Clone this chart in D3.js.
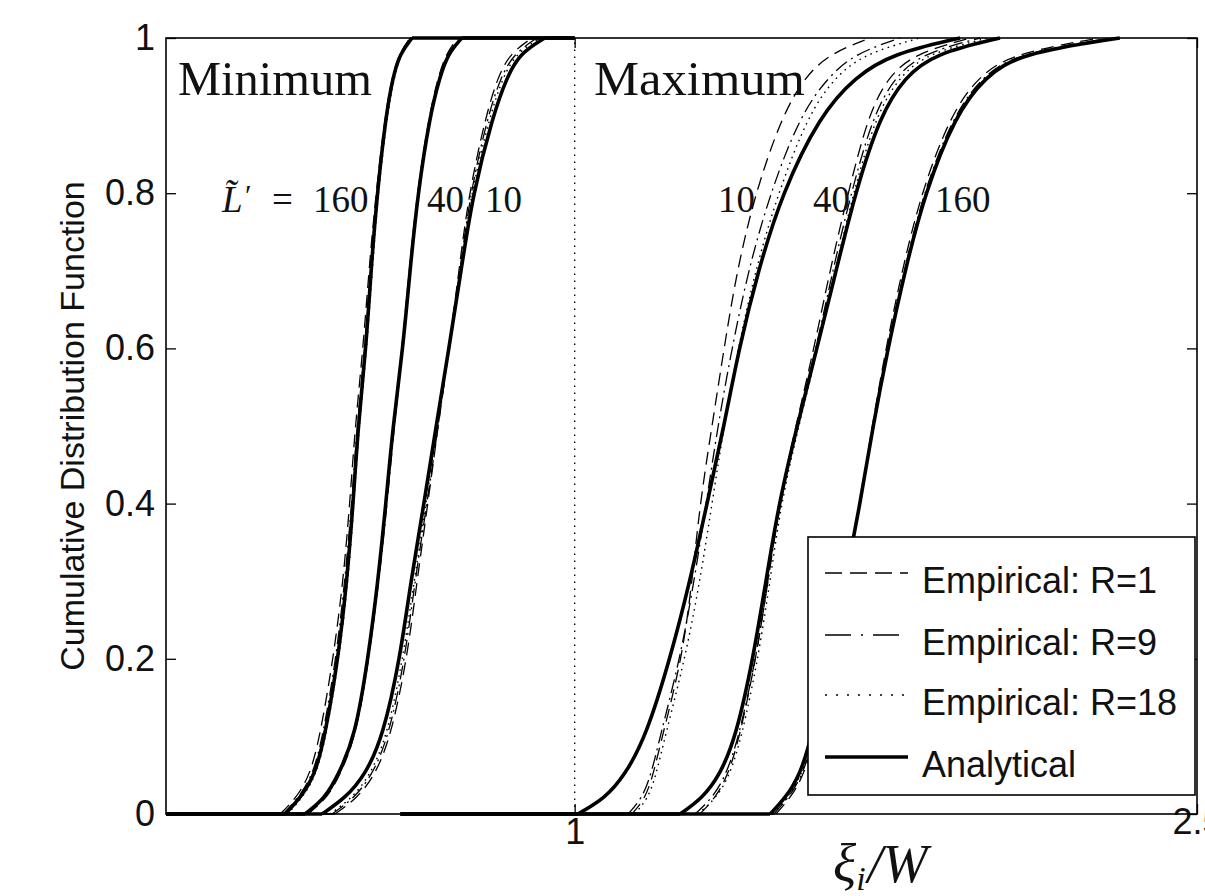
<!DOCTYPE html>
<html><head><meta charset="utf-8">
<script src="https://cdn.jsdelivr.net/npm/d3@7"></script>
<style>body{margin:0;background:#fff}svg{display:block}</style>
</head><body>
<svg id="c" width="1205" height="896"></svg>
<script>
// ---------- data ----------
const cdfLevels = [0,0.02,0.05,0.1,0.2,0.3,0.4,0.5,0.6,0.7,0.8,0.9,0.95,0.98,1];
// x values (xi_i / W) at which each CDF reaches cdfLevels
const minL160Analytical = [0.302,0.338,0.374,0.398,0.430,0.451,0.466,0.478,0.497,0.509,0.524,0.545,0.562,0.579,0.608];
const minL160R1  = [0.290,0.328,0.362,0.386,0.418,0.442,0.458,0.471,0.490,0.504,0.521,0.543,0.560,0.577,0.603];
const minL160R9  = [0.297,0.333,0.369,0.393,0.425,0.446,0.463,0.475,0.495,0.507,0.524,0.545,0.562,0.579,0.605];
const minL160R18 = [0.307,0.343,0.377,0.401,0.432,0.454,0.468,0.480,0.499,0.512,0.526,0.548,0.565,0.581,0.610];
const minL40Analytical = [0.350,0.398,0.430,0.471,0.502,0.526,0.545,0.562,0.586,0.603,0.622,0.651,0.675,0.695,0.728];
const minL40R1  = [0.357,0.403,0.434,0.473,0.504,0.526,0.545,0.562,0.584,0.601,0.620,0.649,0.671,0.690,0.719];
const minL40R9  = [0.355,0.401,0.432,0.473,0.504,0.528,0.548,0.565,0.586,0.603,0.622,0.651,0.673,0.692,0.724];
const minL40R18 = [0.352,0.401,0.432,0.471,0.502,0.526,0.545,0.562,0.586,0.603,0.622,0.651,0.675,0.695,0.726];
const minL10Analytical = [0.391,0.446,0.495,0.538,0.579,0.605,0.637,0.666,0.697,0.726,0.755,0.803,0.837,0.868,0.928];
const minL10R1  = [0.422,0.475,0.519,0.557,0.596,0.620,0.646,0.671,0.697,0.721,0.745,0.786,0.815,0.844,0.897];
const minL10R9  = [0.415,0.468,0.512,0.552,0.591,0.615,0.644,0.671,0.697,0.724,0.748,0.791,0.822,0.854,0.909];
const minL10R18 = [0.410,0.463,0.507,0.548,0.586,0.613,0.642,0.668,0.697,0.724,0.750,0.796,0.827,0.859,0.916];
const maxL10Analytical = [1.008,1.073,1.121,1.172,1.230,1.278,1.319,1.360,1.396,1.442,1.500,1.591,1.676,1.767,1.929];
const maxL10R1  = [1.138,1.170,1.189,1.211,1.259,1.283,1.302,1.331,1.360,1.391,1.435,1.500,1.555,1.615,1.712];
const maxL10R9  = [1.129,1.162,1.184,1.206,1.254,1.288,1.317,1.345,1.379,1.418,1.471,1.543,1.611,1.676,1.784];
const maxL10R18 = [1.145,1.177,1.196,1.218,1.266,1.302,1.331,1.360,1.394,1.435,1.490,1.562,1.627,1.700,1.832];
const maxL40Analytical = [1.254,1.307,1.350,1.389,1.430,1.461,1.492,1.536,1.584,1.630,1.676,1.736,1.796,1.868,2.025];
const maxL40R1  = [1.302,1.338,1.370,1.398,1.437,1.466,1.492,1.533,1.577,1.615,1.659,1.707,1.755,1.820,1.953];
const maxL40R9  = [1.290,1.331,1.365,1.396,1.437,1.466,1.494,1.536,1.582,1.622,1.666,1.719,1.772,1.837,1.977];
const maxL40R18 = [1.297,1.341,1.374,1.403,1.442,1.471,1.497,1.540,1.586,1.628,1.671,1.726,1.782,1.849,1.996];
const maxL160Analytical = [1.471,1.507,1.543,1.572,1.611,1.652,1.688,1.719,1.755,1.796,1.844,1.917,1.989,2.073,2.314];
const maxL160R1  = [1.485,1.519,1.553,1.579,1.615,1.654,1.688,1.717,1.750,1.789,1.835,1.905,1.972,2.054,2.266];
const maxL160R9  = [1.480,1.514,1.550,1.577,1.613,1.654,1.688,1.719,1.753,1.794,1.840,1.912,1.982,2.064,2.290];
const maxL160R18 = [1.478,1.512,1.548,1.574,1.613,1.652,1.688,1.719,1.755,1.796,1.842,1.914,1.987,2.069,2.302];

const minSupport = [0.015, 1];     // x range over which the minimum CDFs are drawn
const maxSupportStart = 0.58;      // x where the maximum CDFs start
const referenceX = 1;              // dotted vertical line
const xDomain = [0.015, 2.5];
const yDomain = [0, 1];
const yTicks = [0, 0.2, 0.4, 0.6, 0.8, 1];
const xTicks = [1, 2.5];
const xTickLabels = ["1", "2.5"];
const minLabels = ["40", "10"];
const maxLabels = ["10", "40", "160"];
const legendLabels = ["Empirical: R=1", "Empirical: R=9", "Empirical: R=18", "Analytical"];
const seriesKeys = ["R1", "R9", "R18", "A"];

// ---------- layout ----------
const X0 = 166, X1 = 1197, Y0 = 38, Y1 = 814;
const svg = d3.select("#c");
const x = d3.scaleLinear().domain(xDomain).range([X0, X1]);
const y = d3.scaleLinear().domain(yDomain).range([Y1, Y0]);

const styles = {
  R1:  {dash: "13,7", w: 1.3},
  R9:  {dash: "14,5,2,5", w: 1.3},
  R18: {dash: "1.6,4.5", w: 1.4},
  A:   {dash: null, w: 3.6}
};

const groups = [
  {side: "min", A: minL160Analytical, R1: minL160R1, R9: minL160R9, R18: minL160R18},
  {side: "min", A: minL40Analytical,  R1: minL40R1,  R9: minL40R9,  R18: minL40R18},
  {side: "min", A: minL10Analytical,  R1: minL10R1,  R9: minL10R9,  R18: minL10R18},
  {side: "max", A: maxL10Analytical,  R1: maxL10R1,  R9: maxL10R9,  R18: maxL10R18},
  {side: "max", A: maxL40Analytical,  R1: maxL40R1,  R9: maxL40R9,  R18: maxL40R18},
  {side: "max", A: maxL160Analytical, R1: maxL160R1, R9: maxL160R9, R18: maxL160R18}
];

svg.append("rect").attr("width", 1205).attr("height", 896).attr("fill", "#fff");

const defs = svg.append("defs");
defs.append("clipPath").attr("id", "clip").append("rect")
  .attr("x", X0).attr("y", Y0 - 6).attr("width", X1 - X0).attr("height", Y1 - Y0 + 12);

const plot = svg.append("g").attr("clip-path", "url(#clip)");

// dotted reference line at x = 1
plot.append("line")
  .attr("x1", x(referenceX)).attr("x2", x(referenceX))
  .attr("y1", y(0)).attr("y2", y(1))
  .attr("stroke", "#000").attr("stroke-width", 1.4).attr("stroke-dasharray", "1.5,5.5");

const curveLine = d3.line().x(d => x(d[0])).y(d => y(d[1])).curve(d3.curveBasis);
const flatLine = d3.line().x(d => x(d[0])).y(d => y(d[1]));

function pathFor(q, side) {
  const pts = cdfLevels.map((p, i) => [q[i], p]);
  let d = "";
  if (side === "min") {
    d += flatLine([[minSupport[0], 0], [q[0], 0]]);
    d += curveLine(pts);
    d += flatLine([[q[q.length - 1], 1], [minSupport[1], 1]]);
  } else {
    d += flatLine([[maxSupportStart, 0], [q[0], 0]]);
    d += curveLine(pts);
  }
  return d;
}

seriesKeys.forEach(key => {
  groups.forEach(g => {
    const st = styles[key];
    plot.append("path")
      .attr("d", pathFor(g[key], g.side))
      .attr("fill", "none").attr("stroke", "#000")
      .attr("stroke-width", st.w)
      .attr("stroke-linejoin", "round")
      .attr("stroke-dasharray", st.dash);
  });
});

// ---------- axes ----------
const tickFont = "'Liberation Sans', Arial, Helvetica, sans-serif";
const axLeft = svg.append("g").attr("transform", `translate(${X0},0)`)
  .call(d3.axisLeft(y).tickValues(yTicks).tickSizeInner(-10).tickSizeOuter(0).tickPadding(11)
    .tickFormat(d3.format("")));
const axRight = svg.append("g").attr("transform", `translate(${X1},0)`)
  .call(d3.axisRight(y).tickValues(yTicks).tickSizeInner(-10).tickSizeOuter(0).tickFormat(""));
const axBottom = svg.append("g").attr("transform", `translate(0,${Y1})`)
  .call(d3.axisBottom(x).tickValues(xTicks).tickSizeInner(-10).tickSizeOuter(0).tickPadding(4)
    .tickFormat((d, i) => xTickLabels[i]));
const axTop = svg.append("g").attr("transform", `translate(0,${Y0})`)
  .call(d3.axisTop(x).tickValues(xTicks).tickSizeInner(-10).tickSizeOuter(0).tickFormat(""));

[axLeft, axRight, axBottom, axTop].forEach(g => {
  g.select(".domain").remove();
  g.selectAll(".tick line").attr("stroke", "#000").attr("stroke-width", 1.3);
  g.selectAll("text").attr("font-family", tickFont).attr("font-size", 36).attr("fill", "#111");
});
axBottom.selectAll(".tick text").filter(d => d === 2.5).attr("dy", "0.45em");

// frame
svg.append("rect").attr("x", X0).attr("y", Y0).attr("width", X1 - X0).attr("height", Y1 - Y0)
  .attr("fill", "none").attr("stroke", "#000").attr("stroke-width", 1.6);

// y axis title
svg.append("text")
  .attr("transform", `translate(84,${(Y0 + Y1) / 2}) rotate(-90)`)
  .attr("text-anchor", "middle")
  .attr("font-family", tickFont).attr("font-size", 34).attr("fill", "#111")
  .text("Cumulative Distribution Function");

// x axis title  ξ_i / W
const serif = "'Liberation Serif', 'Times New Roman', serif";
const xt = svg.append("text").attr("x", 833).attr("y", 882)
  .attr("font-family", serif).attr("font-size", 54).attr("font-style", "italic").attr("fill", "#111");
xt.append("tspan").text("ξ");
xt.append("tspan").attr("font-size", 34).attr("dy", 8).text("i");
xt.append("tspan").attr("dy", -8).attr("dx", 2).text("/W");

// annotations
const ann = svg.append("g").attr("font-family", serif).attr("fill", "#111");
ann.append("text").attr("x", 178).attr("y", 95).attr("font-size", 48)
  .attr("textLength", 194).attr("lengthAdjust", "spacingAndGlyphs").text("Minimum");
ann.append("text").attr("x", 594).attr("y", 95).attr("font-size", 48)
  .attr("textLength", 211).attr("lengthAdjust", "spacingAndGlyphs").text("Maximum");

ann.append("text").attr("x", 222).attr("y", 212).attr("font-size", 37)
  .attr("font-style", "italic").text("L\u0303");
ann.append("text").attr("x", 245).attr("y", 205).attr("font-size", 30).text("\u2032");
ann.append("text").attr("x", 272).attr("y", 212).attr("font-size", 37).text("=");
ann.append("text").attr("x", 313).attr("y", 212).attr("font-size", 37).text("160");

const minLabelX = [427, 485];
minLabels.forEach((t, i) => ann.append("text").attr("x", minLabelX[i]).attr("y", 212)
  .attr("font-size", 37).text(t));
const maxLabelX = [718, 813, 935];
maxLabels.forEach((t, i) => ann.append("text").attr("x", maxLabelX[i]).attr("y", 212)
  .attr("font-size", 37).text(t));

// ---------- legend ----------
const lg = svg.append("g");
lg.append("rect").attr("x", 808).attr("y", 537).attr("width", 387).attr("height", 258)
  .attr("fill", "#fff").attr("stroke", "#000").attr("stroke-width", 1.6);
const rowY = [573, 635, 695, 757];
legendLabels.forEach((lab, i) => {
  lg.append("line").attr("x1", 825).attr("x2", 908).attr("y1", rowY[i]).attr("y2", rowY[i])
    .attr("stroke", "#000").attr("stroke-width", i === 3 ? 3.6 : 1.4)
    .attr("stroke-dasharray", i === 0 ? "17,8" : i === 1 ? "26,10,2,10" : i === 2 ? "2,9" : null);
  lg.append("text").attr("x", 922).attr("y", rowY[i] + 20)
    .attr("font-family", tickFont).attr("font-size", 36).attr("fill", "#111").text(lab);
});
</script>
</body></html>
